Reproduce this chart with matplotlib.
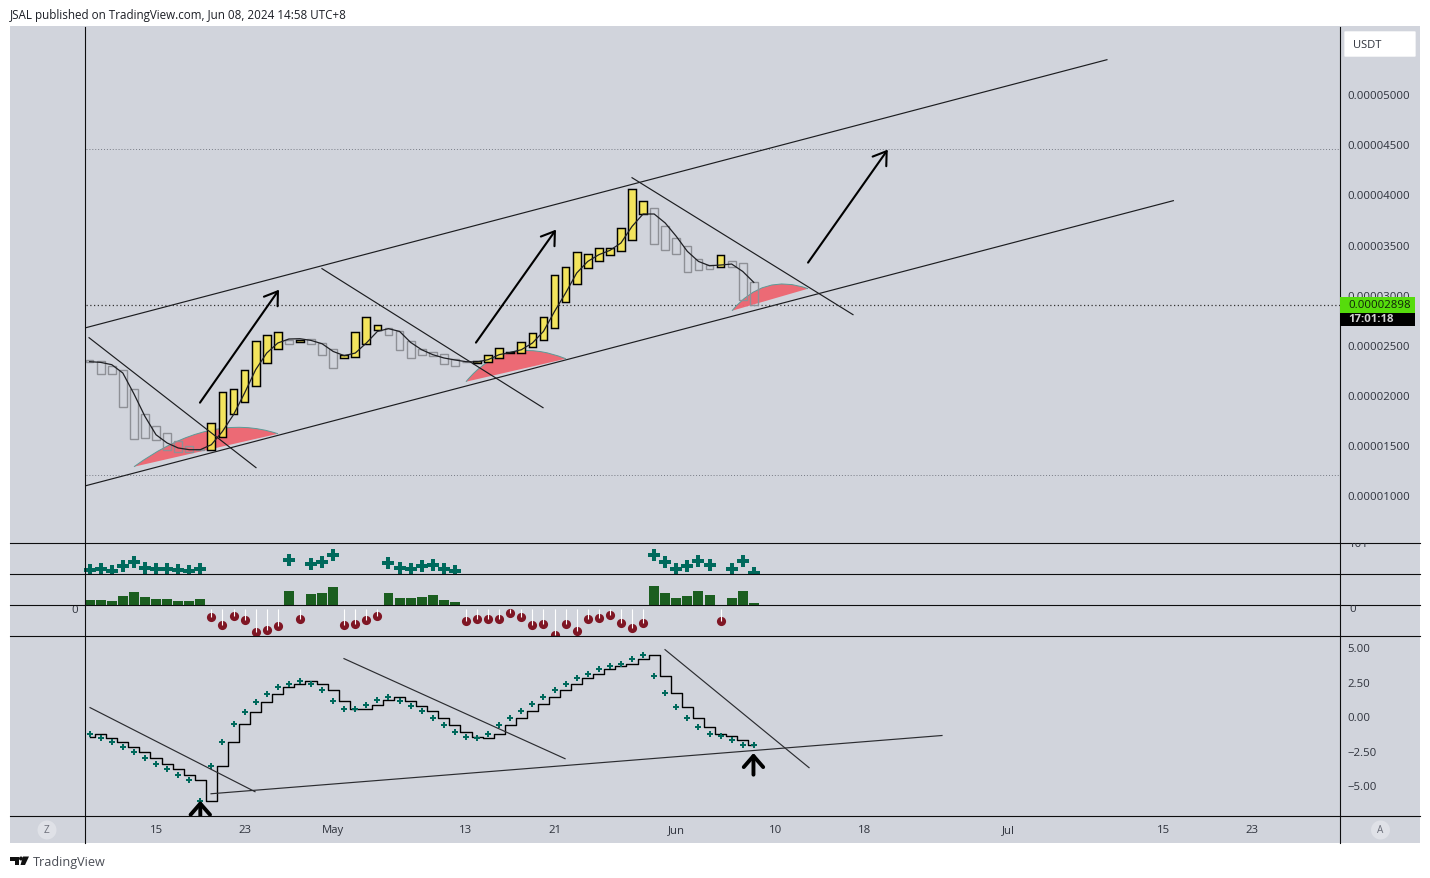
import numpy as np
import matplotlib
matplotlib.use("Agg")
import matplotlib.pyplot as plt
from matplotlib.lines import Line2D
from matplotlib.patches import Rectangle, FancyArrowPatch, PathPatch, Polygon, FancyBboxPatch
from matplotlib.path import Path
from matplotlib.transforms import Bbox

plt.rcParams['font.family'] = ['Open Sans', 'DejaVu Sans']

# ---------- data (prices in units of 1e-8 USDT) ----------
opens = [2345,2335,2285,2245,2059,1810,1686,1620,1537,1487,1464,
         1451,1580,1810,1930,2089,2319,2458,2551,2528,2561,2518,2458,2369,2379,2508,2648,
         2668,2638,2538,2458,2428,2408,2358,2332,2319,2329,2369,2423,2419,2478,2548,2668,
         2927,3107,3266,3336,3396,3436,3546,3805,3865,3681,3562,3486,3356,3296,3276,3336,3316,3127]
closes = [2325,2209,2209,1880,1561,1571,1551,1451,1431,1431,1454,
          1720,2029,2059,2249,2538,2598,2628,2508,2551,2508,2399,2269,2398,2628,2778,2698,
          2598,2448,2368,2398,2388,2309,2289,2327,2339,2398,2465,2429,2524,2614,2774,3193,
          3272,3422,3402,3462,3462,3661,4054,3931,3506,3446,3406,3226,3246,3256,3392,3276,2947,2898]
smooth = [2332,2325,2302,2219,2012,1786,1603,1521,1471,1454,1454,1504,1636,1803,2019,2252,2418,
          2518,2558,2561,2544,2511,2434,2392,2418,2518,2634,2661,2634,2524,2451,2402,2369,2349,
          2332,2329,2352,2402,2424,2451,2518,2634,2833,3017,3216,3332,3399,3442,3516,3681,3805,
          3805,3715,3582,3432,3332,3289,3296,3306,3232,3123]
price_ticks = [5000,4500,4000,3500,3000,2500,2000,1500,1000]
last_price = 2898
levels = [4451, 2898, 1204]

buy_days = [0,1,2,3,4,5,6,7,8,9,10,18,20,21,22,27,28,29,30,31,32,33,51,52,53,54,55,56,58,59,60]
buy_marks = [5.87,5.98,5.70,6.53,7.19,6.20,6.03,6.03,5.87,5.70,6.03,7.52,6.86,7.19,8.23,7.02,
             6.20,6.03,6.41,6.69,6.03,5.70,8.35,7.19,6.03,6.53,7.36,6.69,6.03,7.36,5.37]
buy_bars = [.88,.88,.72,1.54,2.2,1.38,1.05,1.05,.72,.72,1.05,2.37,1.87,2.04,3.03,2.04,
            1.21,1.21,1.38,1.71,.88,.55,3.2,2.04,1.21,1.54,2.37,1.71,1.21,2.37,.39]
sell_days = [11,12,13,14,15,16,17,19,23,24,25,26,34,35,36,37,38,39,40,41,42,43,44,45,46,47,48,49,50,57]
sell_marks = [-1.95,-3.27,-1.79,-2.45,-4.43,-4.10,-3.44,-2.28,-3.27,-3.11,-2.45,-1.79,-2.61,-2.28,
              -2.28,-2.28,-1.29,-1.95,-3.27,-3.11,-4.93,-3.11,-4.26,-2.28,-2.12,-1.62,-2.94,-3.77,-2.94,-2.61]

osc_fast = [-1.32,-1.56,-1.85,-2.21,-2.57,-3.01,-3.44,-3.80,-4.24,-4.60,-6.15,-3.59,-1.85,-0.54,
            0.33,1.05,1.63,2.14,2.31,2.57,2.36,1.92,1.12,0.54,0.54,0.83,1.20,1.36,1.12,0.76,0.40,
            -0.11,-0.62,-1.12,-1.49,-1.56,-1.27,-0.62,-0.11,0.40,0.91,1.41,1.92,2.36,2.79,3.08,
            3.44,3.61,3.80,4.17,4.46,2.93,1.70,0.69,-0.11,-0.76,-1.27,-1.41,-1.70,-2.07,-2.07]
osc_slow = [-1.51] + osc_fast[:-1]
osc_ticks = [5.0,2.5,0.0,-2.5,-5.0]

date_ticks = [6,14,22,34,42,53,62,70,83,97,105]
date_labels = ['15','23','May','13','21','Jun','10','18','Jul','15','23']

# drawings: ((day, price), (day, price))
price_lines = [((-0.33,2671),(91.9,5344)), ((-0.33,1095),(97.9,3938)),
               ((-0.05,2571),(15.03,1275)), ((20.99,3260),(40.96,1873)), ((49.0,4167),(68.96,2801))]
price_arrows = [((9.97,1923),(17.11,3050)), ((34.9,2522),(42.13,3649)), ((64.9,3320),(72.1,4447))]
lens_shapes = [((4.01,1284),(10.9,1837),(17.02,1613)),
               ((34.0,2132),(37.5,2604),(43.03,2361)),
               ((58.03,2840),(60.9,3220),(64.9,3060))]
osc_lines = [((0.04,0.62),(14.94,-5.47)), ((10.97,-5.62),(77.0,-1.40)),
             ((22.98,4.17),(42.95,-3.08)), ((51.98,4.82),(64.99,-3.73))]
osc_arrows = [((10.0,-7.6),(10.0,-6.12)), ((59.97,-4.24),(59.97,-2.67))]

# ---------- layout ----------
W, H = 1430, 879
BG = '#d1d4dc'
TXT = '#2e323c'
SHIFT = 0.7
fig = plt.figure(figsize=(W/100, H/100), dpi=100, facecolor='white')

def fx(x): return x / W
def fy(y): return 1 - y / H
def rect(x0, y0, x1, y1): return [fx(x0), fy(y1), (x1-x0)/W, (y1-y0)/H]

fig.add_artist(Rectangle((fx(10), fy(844)), 1410/W, 817/H, transform=fig.transFigure,
                         facecolor=BG, edgecolor='none', zorder=-5))

XLIM = ((10-89.6)/11.07, (1340-89.6)/11.07)
def pane(y0, y1, ylim):
    ax = fig.add_axes(rect(10, y0 + SHIFT, 1340, y1 + SHIFT))
    ax.set_xlim(*XLIM); ax.set_ylim(*ylim)
    ax.set_facecolor('none')
    for s in ax.spines.values(): s.set_visible(False)
    ax.set_xticks([]); ax.set_yticks([])
    ax.yaxis.tick_right()
    ax.tick_params(axis='y', length=0, pad=5.4, labelsize=8.2, labelcolor=TXT)
    return ax

ax_p = pane(27, 543, (526.2, 5673.3))
ax_a = pane(543, 574.5, (5.12, 10.33))
ax_b = pane(574.5, 636, (-5.04, 5.12))
ax_o = pane(636, 816, (-7.21, 5.83))
ax_t = pane(816, 843, (0, 1))

# ---------- price pane ----------
days = np.arange(len(opens))
opens_a, closes_a = np.array(opens, float), np.array(closes, float)
up = closes_a >= opens_a
for lv in levels:
    ax_p.plot([XLIM[0] + 75.5/11.07, XLIM[1]], [lv, lv], color='#333333' if lv == last_price else '#777b85',
              lw=0.9 if lv == last_price else 0.7, ls=(0, (1, 2)), zorder=1)
for s, c, e in lens_shapes:
    ax_p.add_patch(PathPatch(Path([s, c, e, s], [Path.MOVETO, Path.CURVE3, Path.CURVE3, Path.CLOSEPOLY]),
                             facecolor='#ee6470', edgecolor='none', alpha=0.95, zorder=2))
    ax_p.add_patch(PathPatch(Path([s, c, e], [Path.MOVETO, Path.CURVE3, Path.CURVE3]),
                             facecolor='none', edgecolor='#5a9c98', lw=0.7, zorder=2))
ax_p.bar(days[~up], (opens_a-closes_a)[~up], bottom=closes_a[~up], width=0.7,
         facecolor='none', edgecolor='#8e9096', lw=1.0, zorder=3)
ax_p.bar(days[up], (closes_a-opens_a)[up], bottom=opens_a[up], width=0.7,
         facecolor=(0.97, 0.90, 0.31, 0.9), edgecolor='black', lw=1.05, zorder=4)
ax_p.plot(days, smooth, color='#1f2024', lw=0.9, zorder=5, solid_joinstyle='round')
for a, b in price_lines:
    ax_p.plot([a[0], b[0]], [a[1], b[1]], color='#1c1d20', lw=0.85, zorder=5)
for a, b in price_arrows:
    ax_p.add_patch(FancyArrowPatch(a, b, arrowstyle='->,head_length=9,head_width=6', mutation_scale=1,
                                   shrinkA=0, shrinkB=0, color='black', lw=1.5, zorder=6))
ax_p.set_yticks(price_ticks)
ax_p.set_yticklabels([f'{v*1e-8:.8f}' for v in price_ticks])

# ---------- signal panes ----------
ax_a.plot(buy_days, buy_marks, ls='none', marker='P', ms=8.6, mew=0, color='#00695c', zorder=3)
ax_b.bar(buy_days, buy_bars, width=0.9, color='#1b5e20', zorder=3)
ax_b.vlines(sell_days, -0.58, sell_marks, color='white', lw=0.8, zorder=4)
ax_b.plot(sell_days, sell_marks, ls='none', marker='o', ms=6.6, mew=0, color='#7f1624', zorder=3)
ax_b.text((74.5-89.6)/11.07, -0.7, '0', ha='center', va='center', fontsize=8.2, color=TXT)
t_top = fig.text(fx(1349), fy(544.5), '101', fontsize=8.2, color=TXT, va='center', ha='left', zorder=4)
t_top.set_clip_box(Bbox([[1341, H-574], [1420, H-544]]))
t_top.set_clip_on(True)
t_zero = fig.text(fx(1349.5), fy(609.5), '0', fontsize=8.2, color=TXT, va='center', ha='left', zorder=4)
t_zero.set_clip_box(Bbox([[1341, H-636], [1420, H-606]]))
t_zero.set_clip_on(True)

# ---------- oscillator pane ----------
ax_o.step(days, osc_slow, where='mid', color='black', lw=1.0, zorder=3)
ax_o.plot(days, osc_fast, ls='none', marker='P', ms=4.6, mew=0, color='#00695c', zorder=4)
for a, b in osc_lines:
    ax_o.plot([a[0], b[0]], [a[1], b[1]], color='#2b2c30', lw=0.85, zorder=5)
for a, b in osc_arrows:
    ax_o.add_patch(FancyArrowPatch(a, b, arrowstyle='->,head_length=8,head_width=7', mutation_scale=1,
                                   shrinkA=0, shrinkB=0, color='black', lw=2.8, zorder=6))
ax_o.set_yticks(osc_ticks)
ax_o.set_yticklabels([f'{v:.2f}'.replace('-', '\u2212') for v in osc_ticks])

# ---------- time axis ----------
ax_t.set_xticks(date_ticks)
ax_t.set_xticklabels(date_labels)
ax_t.tick_params(axis='x', length=0, pad=-13.5, labelsize=8.2, labelcolor=TXT)

# ---------- frame lines ----------
for y in [543.5, 574.5, 605.5, 636.5, 816.5]:
    fig.add_artist(Line2D([fx(10), fx(1420)], [fy(y), fy(y)], color='#0d0d0f', lw=0.8, zorder=2))
for x in [85.0, 1340.0]:
    fig.add_artist(Line2D([fx(x), fx(x)], [fy(27.5), fy(844)], color='#0d0d0f', lw=0.8, zorder=2))

# ---------- scale decorations ----------
fig.add_artist(Rectangle((fx(1340), fy(313.5)), 75/W, 16/H, transform=fig.transFigure, facecolor='#56dc0c', edgecolor='none', zorder=3))
fig.add_artist(Rectangle((fx(1340), fy(327)), 75/W, 13.5/H, transform=fig.transFigure, facecolor='black', edgecolor='none', zorder=3))
fig.text(fx(1348), fy(306), f'{last_price*1e-8:.8f}', fontsize=8.2, color='#10200a', va='center', ha='left', zorder=4)
fig.text(fx(1348), fy(320), '17:01:18', fontsize=8.2, color='#d0d0d0', va='center', ha='left', zorder=4, fontweight='bold')
fig.add_artist(FancyBboxPatch((fx(1345.5), fy(57)), 69/W, 24/H, boxstyle='round,pad=0.0008',
                              transform=fig.transFigure, facecolor='white', edgecolor='none', zorder=3))
fig.text(fx(1353), fy(45), 'USDT', fontsize=8.0, color=TXT, va='center', ha='left', zorder=4)
for x, s in [(47, 'Z'), (1380.5, 'A')]:
    fig.add_artist(Polygon(np.c_[fx(x) + 9.5/W*np.cos(np.linspace(0, 2*np.pi, 40)),
                                 fy(831) + 9.5/H*np.sin(np.linspace(0, 2*np.pi, 40))],
                           transform=fig.transFigure, facecolor='#dfe1e7', edgecolor='none', zorder=3))
    fig.text(fx(x), fy(831), s, fontsize=7.2, color='#6a6d78', va='center', ha='center', zorder=4)

# ---------- header and footer ----------
fig.text(fx(10), fy(15.3), 'JSAL published on TradingView.com, Jun 08, 2024 14:58 UTC+8', fontsize=8.4,
         color='#1c1f26', va='center', ha='left')
fig.text(fx(33), fy(862.3), 'TradingView', fontsize=9.1, color='#4a4d55', va='center', ha='left')
logo = [[(10, 857.5), (19, 857.5), (19, 866), (15, 866), (15, 861.5), (10, 861.5)],
        [(23, 857.5), (29, 857.5), (25, 866), (20.5, 866)]]
for poly in logo:
    fig.add_artist(Polygon([(fx(x), fy(y)) for x, y in poly], transform=fig.transFigure, facecolor='#111111', edgecolor='none'))
fig.add_artist(Polygon(np.c_[fx(21) + 2/W*np.cos(np.linspace(0, 2*np.pi, 24)), fy(859.5) + 2/H*np.sin(np.linspace(0, 2*np.pi, 24))],
                       transform=fig.transFigure, facecolor='#111111', edgecolor='none'))

fig.savefig('out.png', dpi=100, facecolor='white')
